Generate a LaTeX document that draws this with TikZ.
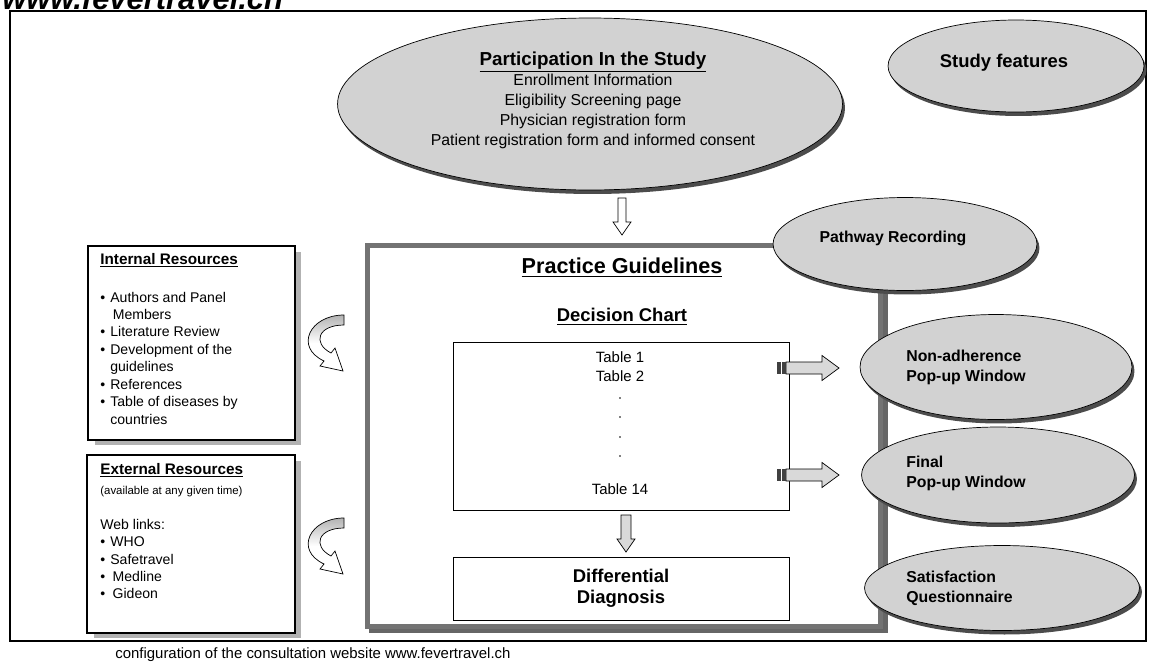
\documentclass[tikz,border=0pt]{standalone}
\usepackage{fontspec}
\setmainfont{Liberation Sans}
\usetikzlibrary{calc}
\usetikzlibrary{shapes.geometric}
\usetikzlibrary{shadows}
\newcommand\itm{\makebox[2mm][l]{\textbullet}}
\begin{document}
\begin{tikzpicture}[x = 0.02cm, y = -0.02cm,
    ell/.style = {ellipse, draw, fill = gray!35, inner sep = 0,
        drop shadow = {shadow xshift = 0.5mm, shadow yshift = -0.8mm, fill = black!70, opacity = 1}},
    lbl/.style = {font = \bfseries\fontsize{9}{11.3}\selectfont, align = left, inner sep = 0},
    rbox/.style = {draw, thick, fill = white, inner sep = 0,
        drop shadow = {shadow xshift = 1.3mm, shadow yshift = -1.1mm, fill = gray!60, opacity = 1}},
    ln/.style = {font = \fontsize{8}{9.9}\selectfont, anchor = base west, inner sep = 0}]
    \useasboundingbox (0, 0) rectangle (1152, 663);
    \node [font = \bfseries\itshape\fontsize{17.6}{20}\selectfont, anchor = base west, inner sep = 0] (web) at (2, 9) {www.fevertravel.ch};
    \draw [line width = 0.8pt] (10, 11) rectangle (1146, 641);
    \node [font = \fontsize{8.5}{10}\selectfont, anchor = base west, inner sep = 0] (cap) at (115, 658) {configuration of the consultation website www.fevertravel.ch};
    \node [ell, minimum width = 10.1cm, minimum height = 3.44cm] (part) at (590, 104) {};
    \node [align = center, inner sep = 0, font = \fontsize{9}{11.4}\selectfont] (partt) at (593, 100) {{\bfseries\fontsize{10.7}{11.4}\selectfont\underline{Participation In the Study}}\\Enrollment Information\\Eligibility Screening page\\Physician registration form\\Patient registration form and informed consent};
    \node [ell, minimum width = 5.12cm, minimum height = 1.84cm] (feat) at (1016, 66) {};
    \node [lbl, font = \bfseries\fontsize{10.5}{12}\selectfont] (featt) at (1004, 63) {Study features};
    \coordinate (a0) at (622, 198);
    \draw [fill = white] ($(a0) + (-4, 0)$) -- ++(0, 24) -- ++(-5, 0) -- ($(a0) + (0, 37)$) -- ($(a0) + (9, 24)$) -- ++(-5, 0) -- ($(a0) + (4, 0)$) -- cycle;
    \fill [black!60] (369, 248) rectangle (888, 633);
    \node [draw = black!55, line width = 1mm, fill = white, minimum width = 10.26cm, minimum height = 7.62cm, inner sep = 0] (guide) at (624, 436) {};
    \node [font = \bfseries\fontsize{12.3}{14}\selectfont] (guidet) at (622, 268) {\underline{Practice Guidelines}};
    \node [font = \bfseries\fontsize{10.5}{12}\selectfont] (chart) at (622, 317) {\underline{Decision Chart}};
    \node [draw, minimum width = 6.72cm, minimum height = 3.36cm] (tab) at (621, 426) {};
    \foreach \t/\y in {Table 1/357, Table 2/376, Table 14/489} {
        \node [font = \fontsize{8.5}{10}\selectfont] (t\y) at (620, \y) {\t};
    }
    \foreach \y in {398, 417, 437, 456} {
        \fill (620, \y) circle (0.5pt);
    }
    \foreach \y/\n in {368/r1, 475/r2} {
        \coordinate (\n) at (786, \y);
        \draw [fill = gray!30] ($(\n) + (0, -6)$) -- ++(36, 0) -- ++(0, -6.5) -- ($(\n) + (53, 0)$) -- ($(\n) + (36, 12.5)$) -- ++(0, -6.5) -- ($(\n) + (0, 6)$) -- cycle;
        \fill [black!75] ($(\n) + (-9, -6)$) rectangle ($(\n) + (0, 6)$);
        \draw [white] ($(\n) + (-5, -6)$) -- ($(\n) + (-5, 6)$);
    }
    \coordinate (a1) at (626, 515);
    \draw [fill = gray!30] ($(a1) + (-5, 0)$) -- ++(0, 24) -- ++(-4, 0) -- ($(a1) + (0, 37)$) -- ($(a1) + (9, 24)$) -- ++(-4, 0) -- ($(a1) + (5, 0)$) -- cycle;
    \node [draw, minimum width = 6.72cm, minimum height = 1.26cm, font = \bfseries\fontsize{10.5}{11.9}\selectfont, align = center] (diff) at (621, 588.5) {Differential\\Diagnosis};
    \node [ell, minimum width = 5.28cm, minimum height = 1.86cm] (path) at (905, 244) {};
    \node [lbl] (patht) at (893, 238) {Pathway Recording};
    \foreach \n/\x/\y/\w/\h/\ty/\t in {nad/996/367/5.44/2.1/367/{Non-adherence\\Pop-up Window}, fin/998/475/5.46/1.92/473/{Final\\Pop-up Window}, sat/1002/588/5.5/1.7/588/{Satisfaction\\Questionnaire}} {
        \node [ell, minimum width = \w cm, minimum height = \h cm] (\n) at (\x, \y) {};
        \node [lbl, anchor = west] (t\n) at (906, \ty) {\t};
    }
    \node [rbox, minimum width = 4.14cm, minimum height = 3.88cm] (int) at (191.5, 343) {};
    \node [ln, font = \bfseries\fontsize{8.7}{10}\selectfont] (intt) at (100, 264) {\underline{Internal Resources}};
    \foreach \t/\y in {\itm Authors and Panel/298, \hspace*{2.5mm}Members/315, \itm Literature Review/332, \itm Development of the/350, \hspace*{2mm}guidelines/367, \itm References/385, \itm Table of diseases by/402, \hspace*{2mm}countries/420} {
        \node [ln] (i\y) at (100, \y + 4) {\t};
    }
    \node [rbox, minimum width = 4.16cm, minimum height = 3.56cm] (ext) at (191, 544) {};
    \node [ln, font = \bfseries\fontsize{8.7}{10}\selectfont] (extt) at (100, 474) {\underline{External Resources}};
    \node [ln, font = \fontsize{6.5}{8}\selectfont] (avail) at (100, 494) {(available at any given time)};
    \foreach \t/\y in {Web links:/525, \itm WHO/542, \itm Safetravel/560, \itm\,Medline/577, \itm\,Gideon/594} {
        \node [ln] (e\y) at (100, \y + 4) {\t};
    }
    \foreach \y in {315, 518} {
        \begin{scope}[shift = {(308, \y)}]
            \draw [top color = gray!60, bottom color = white, middle color = white] (36, 0) .. controls (2, 0) and (-14, 32) .. (16, 46) -- (12, 51) -- (35, 56) -- (27, 33) -- (23, 38) .. controls (4, 28) and (10, 10) .. (36, 10) -- cycle;
        \end{scope}
    }
\end{tikzpicture}
\end{document}
